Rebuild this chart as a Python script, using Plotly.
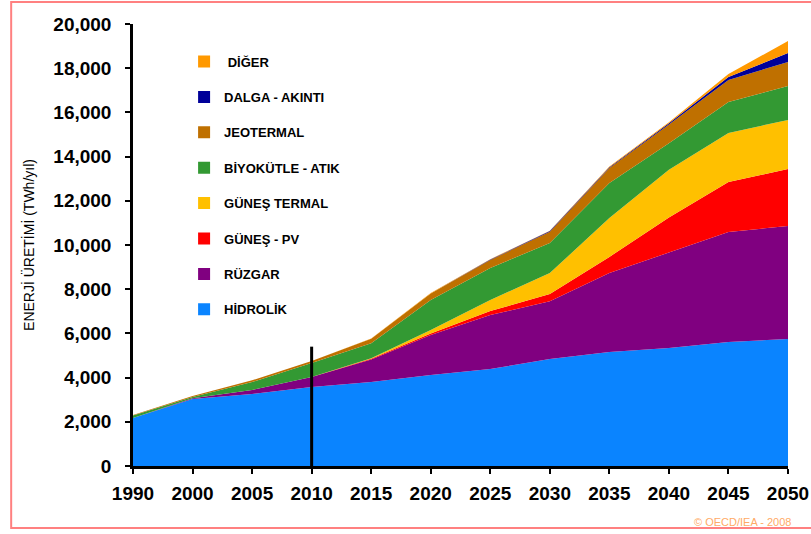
import plotly.graph_objects as go

years = ["1990", "2000", "2005", "2010", "2015", "2020", "2025", "2030", "2035", "2040", "2045", "2050"]

hidrolik      = [2170, 3030, 3260, 3570, 3800, 4120, 4390, 4840, 5160, 5340, 5610, 5750]
ruzgar        = [0, 30, 180, 460, 1020, 1810, 2440, 2620, 3570, 4320, 4980, 5110]
gunes_pv      = [0, 0, 0, 0, 30, 70, 180, 320, 730, 1590, 2260, 2580]
gunes_termal  = [0, 0, 0, 0, 30, 150, 500, 950, 1760, 2150, 2220, 2220]
biyokutle     = [120, 60, 360, 630, 670, 1360, 1450, 1360, 1590, 1200, 1400, 1530]
jeotermal     = [20, 50, 80, 90, 210, 290, 360, 510, 670, 850, 1000, 1090]
dalga         = [0, 0, 0, 0, 0, 10, 20, 30, 40, 60, 130, 410]
diger         = [0, 0, 0, 0, 10, 20, 20, 20, 30, 40, 140, 540]

series_names = ["HİDROLİK", "RÜZGAR", "GÜNEŞ - PV", "GÜNEŞ TERMAL",
                "BİYOKÜTLE - ATIK", "JEOTERMAL", "DALGA - AKINTI", " DİĞER"]
series_values = [hidrolik, ruzgar, gunes_pv, gunes_termal, biyokutle, jeotermal, dalga, diger]
series_colors = ["#0A84FF", "#800080", "#FF0000", "#FFC000",
                 "#339933", "#BF7000", "#000099", "#FF9900"]

marker_year = "2010"
marker_height = 5400

FONT = "Liberation Sans, Arial, sans-serif"

fig = go.Figure()

# stacked areas
for name, vals, col in zip(series_names, series_values, series_colors):
    fig.add_trace(go.Scatter(
        x=years, y=vals, name=name, stackgroup="one", mode="none",
        fillcolor=col, showlegend=False, legendgroup=name,
        hoverinfo="x+y+name",
    ))

# legend entries (square swatches), top-down order
for name, col in reversed(list(zip(series_names, series_colors))):
    fig.add_trace(go.Scatter(
        x=[None], y=[None], mode="markers", name=name, legendgroup=name,
        marker=dict(symbol="square", size=12, color=col),
        showlegend=True,
    ))

marker_idx = years.index(marker_year)
fig.add_shape(type="line", xref="x", yref="y",
              x0=marker_idx, x1=marker_idx, y0=0, y1=marker_height,
              line=dict(color="black", width=3))

# outer red frame
fig.add_shape(type="rect", xref="paper", yref="paper",
              x0=-0.186, x1=1.04, y0=-0.140, y1=1.0498,
              line=dict(color="#FF8080", width=2), fillcolor="rgba(0,0,0,0)",
              layer="below")

fig.add_annotation(text="© OECD/IEA - 2008", xref="paper", yref="paper",
                   x=1.0076, y=-0.127, xanchor="right", yanchor="middle",
                   showarrow=False, font=dict(family=FONT, size=11, color="#FFAA66"))

fig.update_layout(
    width=811, height=534,
    margin=dict(l=133, r=23, t=24, b=68),
    paper_bgcolor="white", plot_bgcolor="white",
    font=dict(family=FONT, color="black"),
    showlegend=True,
    legend=dict(
        x=0.078, y=0.949, xanchor="left", yanchor="top",
        traceorder="grouped", tracegroupgap=15.5,
        font=dict(family=FONT, size=13, color="black", weight="bold"),
        bgcolor="rgba(0,0,0,0)", itemclick=False, itemdoubleclick=False,
    ),
    xaxis=dict(
        type="category", range=[0, 11], showgrid=False, zeroline=False,
        showline=True, linecolor="black", linewidth=2.5,
        ticks="outside", ticklen=5, tickwidth=2, tickcolor="black",
        tickfont=dict(family=FONT, size=19, color="black", weight="bold"),
        ticklabelstandoff=3, automargin=False,
    ),
    yaxis=dict(
        range=[0, 20000], dtick=2000, tickformat=",d", showgrid=False, zeroline=False,
        showline=True, linecolor="black", linewidth=2.5,
        ticks="outside", ticklen=5, tickwidth=2, tickcolor="black",
        tickfont=dict(family=FONT, size=19, color="black", weight="bold"),
        ticklabelstandoff=10, automargin=False,
        title=dict(text="ENERJİ ÜRETİMİ (TWh/yıl)", standoff=16,
                   font=dict(family=FONT, size=14, color="black")),
    ),
)

fig.write_html("out.html",
               config={"displayModeBar": False},
               post_script="document.body.style.margin='0';document.body.style.overflow='hidden';")
